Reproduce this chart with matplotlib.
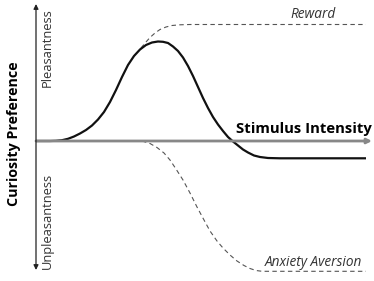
import matplotlib
matplotlib.use("Agg")
import matplotlib.pyplot as plt

plt.rcParams['font.family'] = ['Open Sans', 'DejaVu Sans']

# curves: x = stimulus intensity, y = preference (0 = neutral)
curiosity_x = [0, 14, 20, 26, 32, 38, 44, 50, 56, 62, 68, 74, 80, 86, 92, 98, 104, 110,
               116, 122, 127, 132, 137, 142, 147, 152, 157, 162, 167, 172, 177, 182,
               187, 192, 197, 202, 207, 212, 218, 224, 232, 244, 330]
curiosity_y = [0, 0, 0.2, 0.8, 2.2, 4.5, 7.5, 11, 15.5, 21.5, 29, 39, 51, 64, 76, 85,
               91.5, 96, 98.5, 99.5, 99.2, 98, 94.5, 90, 83.5, 75, 65, 54, 43, 33, 24,
               16.5, 10, 4, -0.5, -4.5, -8.5, -11.5, -14.5, -16, -17, -17.3, -17.3]

reward_x = [105, 110, 114, 119, 124, 130, 136, 144, 154, 330]
reward_y = [93, 99, 103.5, 108, 111.5, 114, 115.5, 116.2, 116.5, 116.5]

anxiety_x = [106, 114, 121, 128, 134, 140, 147, 154, 161, 168, 174, 181, 187, 194,
             201, 208, 214, 220, 226, 330]
anxiety_y = [0, -2.5, -6.5, -12, -19, -28, -39, -52, -66, -79, -90, -100, -107, -114,
             -120, -124.5, -127.5, -129.5, -130.3, -130.3]

fig = plt.figure(figsize=(3.74, 2.81), dpi=100)
ax = fig.add_axes([0, 0, 1, 1])
ax.set_xlim(-36, 338)
ax.set_ylim(-140, 141)
ax.axis('off')

# axes with arrows
ax.annotate('', xy=(336, 0), xytext=(0, 0),
            arrowprops=dict(arrowstyle='-|>', color='#888888', lw=2,
                            mutation_scale=7, shrinkA=0, shrinkB=0))
ax.annotate('', xy=(0, 137), xytext=(0, -129),
            arrowprops=dict(arrowstyle='<|-|>', color='#222222', lw=0.9,
                            mutation_scale=7, shrinkA=0, shrinkB=0))

ax.plot(reward_x, reward_y, color='#555555', lw=0.8, dashes=(4, 3))
ax.plot(anxiety_x, anxiety_y, color='#555555', lw=0.8, dashes=(4, 3))
ax.plot(curiosity_x, curiosity_y, color='#111111', lw=1.6, solid_capstyle='butt')

ax.text(268, 12, 'Stimulus Intensity', fontsize=10.7, fontweight='bold',
        ha='center', va='center')
ax.text(-22, 7, 'Curiosity Preference', fontsize=10.3, fontweight='bold',
        rotation=90, ha='center', va='center')
ax.text(11, 93, 'Pleasantness', fontsize=9.3, color='#333333',
        rotation=90, ha='center', va='center')
ax.text(11, -80, 'Unpleasantness', fontsize=9.3, color='#333333',
        rotation=90, ha='center', va='center')
ax.text(277, 127, 'Reward', fontsize=9.8, style='italic', color='#333333',
        ha='center', va='center')
ax.text(277, -121, 'Anxiety Aversion', fontsize=9.8, style='italic', color='#333333',
        ha='center', va='center')

fig.savefig('out.png', dpi=100)
